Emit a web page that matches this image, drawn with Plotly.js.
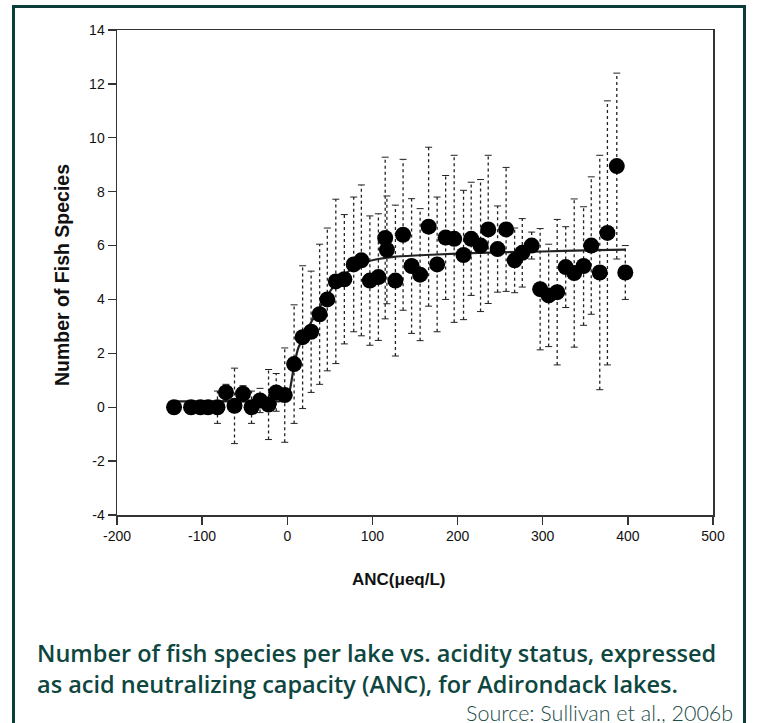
<!DOCTYPE html>
<html>
<head>
<meta charset="utf-8">
<script src="https://cdn.plot.ly/plotly-3.0.1.min.js"></script>
<style>
html,body{margin:0;padding:0;background:#fff;overflow:hidden;}
#frame{position:absolute;left:12px;top:5px;width:734px;height:740px;border:3px solid #0c3d38;box-sizing:border-box;}
#chart{position:absolute;left:0;top:0;width:758px;height:723px;}
</style>
</head>
<body>
<div id="chart"></div>
<div id="frame"></div>
<script>
// ANC bins (µeq/L), mean number of fish species, error (±)
const anc = [-133,-113,-102,-93,-82,-72,-62,-52,-42,-32,-22,-13,-3,8,18,28,38,47,57,67,78,87,97,107,115,117,127,136,146,156,166,176,186,196,207,216,227,236,247,257,267,276,287,297,307,317,327,337,348,357,367,376,387,397];
const species = [0,0,0,0,0,0.55,0.05,0.5,0,0.25,0.1,0.55,0.45,1.6,2.6,2.8,3.45,4.0,4.67,4.75,5.3,5.45,4.7,4.83,6.28,5.84,4.7,6.4,5.24,4.92,6.7,5.3,6.3,6.25,5.65,6.25,6.0,6.6,5.87,6.6,5.45,5.73,6.0,4.38,4.15,4.27,5.2,4.98,5.24,6.0,5.0,6.47,8.95,5.0];
const errs = [0,0,0,0,0.6,0.3,1.4,0.3,0.6,0.45,1.3,0.7,1.75,2.2,2.65,2.25,2.6,2.65,3.05,2.4,2.5,2.8,2.4,2.35,3.0,2.0,2.8,2.8,2.5,2.45,2.95,2.5,2.3,3.1,2.4,2.1,2.45,2.75,1.6,2.3,1.2,1.27,0.5,2.25,1.9,2.7,1.5,2.75,2.2,2.55,4.35,4.9,3.45,1.0];
// fitted curve
const fitX = [-135,-100,-50,-10,0,4,8,13,20,28,36,46,56,68,80,92,107,125,150,200,250,300,350,397];
const fitY = [0.22,0.22,0.22,0.22,0.27,0.8,1.55,2.2,2.65,3.15,3.6,4.1,4.55,4.95,5.2,5.38,5.5,5.58,5.63,5.7,5.75,5.78,5.82,5.85];
const xTicks = [-200,-100,0,100,200,300,400,500];
const yTicks = [-4,-2,0,2,4,6,8,10,12,14];

const ex=[], ey=[], cx=[], cy=[];
for (let i=0;i<anc.length;i++){
  if (errs[i] <= 0) continue;
  ex.push(anc[i], anc[i], null);
  ey.push(species[i]-errs[i], species[i]+errs[i], null);
  cx.push(anc[i], anc[i]);
  cy.push(species[i]-errs[i], species[i]+errs[i]);
}

const traces = [
  {x: ex, y: ey, mode:'lines', line:{color:'#222', width:1.3, dash:'dot'}, hoverinfo:'skip', showlegend:false},
  {x: cx, y: cy, mode:'markers', marker:{symbol:'line-ew', size:5, line:{color:'#222', width:1}}, hoverinfo:'skip', showlegend:false},
  {x: fitX, y: fitY, mode:'lines', line:{color:'#222', width:2.2, shape:'spline', smoothing:0.6}, showlegend:false},
  {x: anc, y: species, mode:'markers', marker:{color:'#000', size:16}, showlegend:false}
];

const sans = 'Liberation Sans, Arial, sans-serif';
const axisCommon = {
  showgrid:false, zeroline:false, showline:true, linecolor:'#333', linewidth:1.5,
  mirror:true, ticks:'outside', ticklen:8, tickwidth:1.3, tickcolor:'#333',
  tickfont:{family:sans, size:14, color:'#111'}
};

const capFont = {family:'Open Sans, sans-serif', size:23.5, color:'#0e4640', weight:600};

const layout = {
  width:758, height:723,
  margin:{l:117, r:45, t:30, b:208},
  paper_bgcolor:'rgba(0,0,0,0)', plot_bgcolor:'#fff',
  xaxis: Object.assign({}, axisCommon, {range:[-200,500], tickvals:xTicks, ticktext:xTicks.map(String)}),
  yaxis: Object.assign({}, axisCommon, {range:[-4,14], tickvals:yTicks, ticktext:yTicks.map(String)}),
  annotations:[
    {text:'<b>Number of Fish Species</b>', xref:'paper', yref:'paper', x:-0.092, y:0.495, textangle:-90, showarrow:false, xanchor:'center', yanchor:'middle', font:{family:sans, size:19.5, color:'#111'}},
    {text:'<b>ANC(μeq/L)</b>', xref:'paper', yref:'paper', x:0.473, y:-0.134, showarrow:false, xanchor:'center', yanchor:'middle', font:{family:sans, size:17, color:'#111'}},
    {text:'Number of fish species per lake vs. acidity status, expressed', xref:'paper', yref:'paper', x:-0.138, y:-0.2845, showarrow:false, xanchor:'left', yanchor:'middle', font:capFont},
    {text:'as acid neutralizing capacity (ANC), for Adirondack lakes.', xref:'paper', yref:'paper', x:-0.138, y:-0.349, showarrow:false, xanchor:'left', yanchor:'middle', font:capFont},
    {text:'Source: Sullivan et al., 2006b', xref:'paper', yref:'paper', x:1.037, y:-0.409, showarrow:false, xanchor:'right', yanchor:'middle', font:{family:'Lato, sans-serif', size:21.5, color:'#1d4d48', weight:300}}
  ]
};

Plotly.newPlot('chart', traces, layout, {displayModeBar:false, staticPlot:true});
</script>
</body>
</html>
